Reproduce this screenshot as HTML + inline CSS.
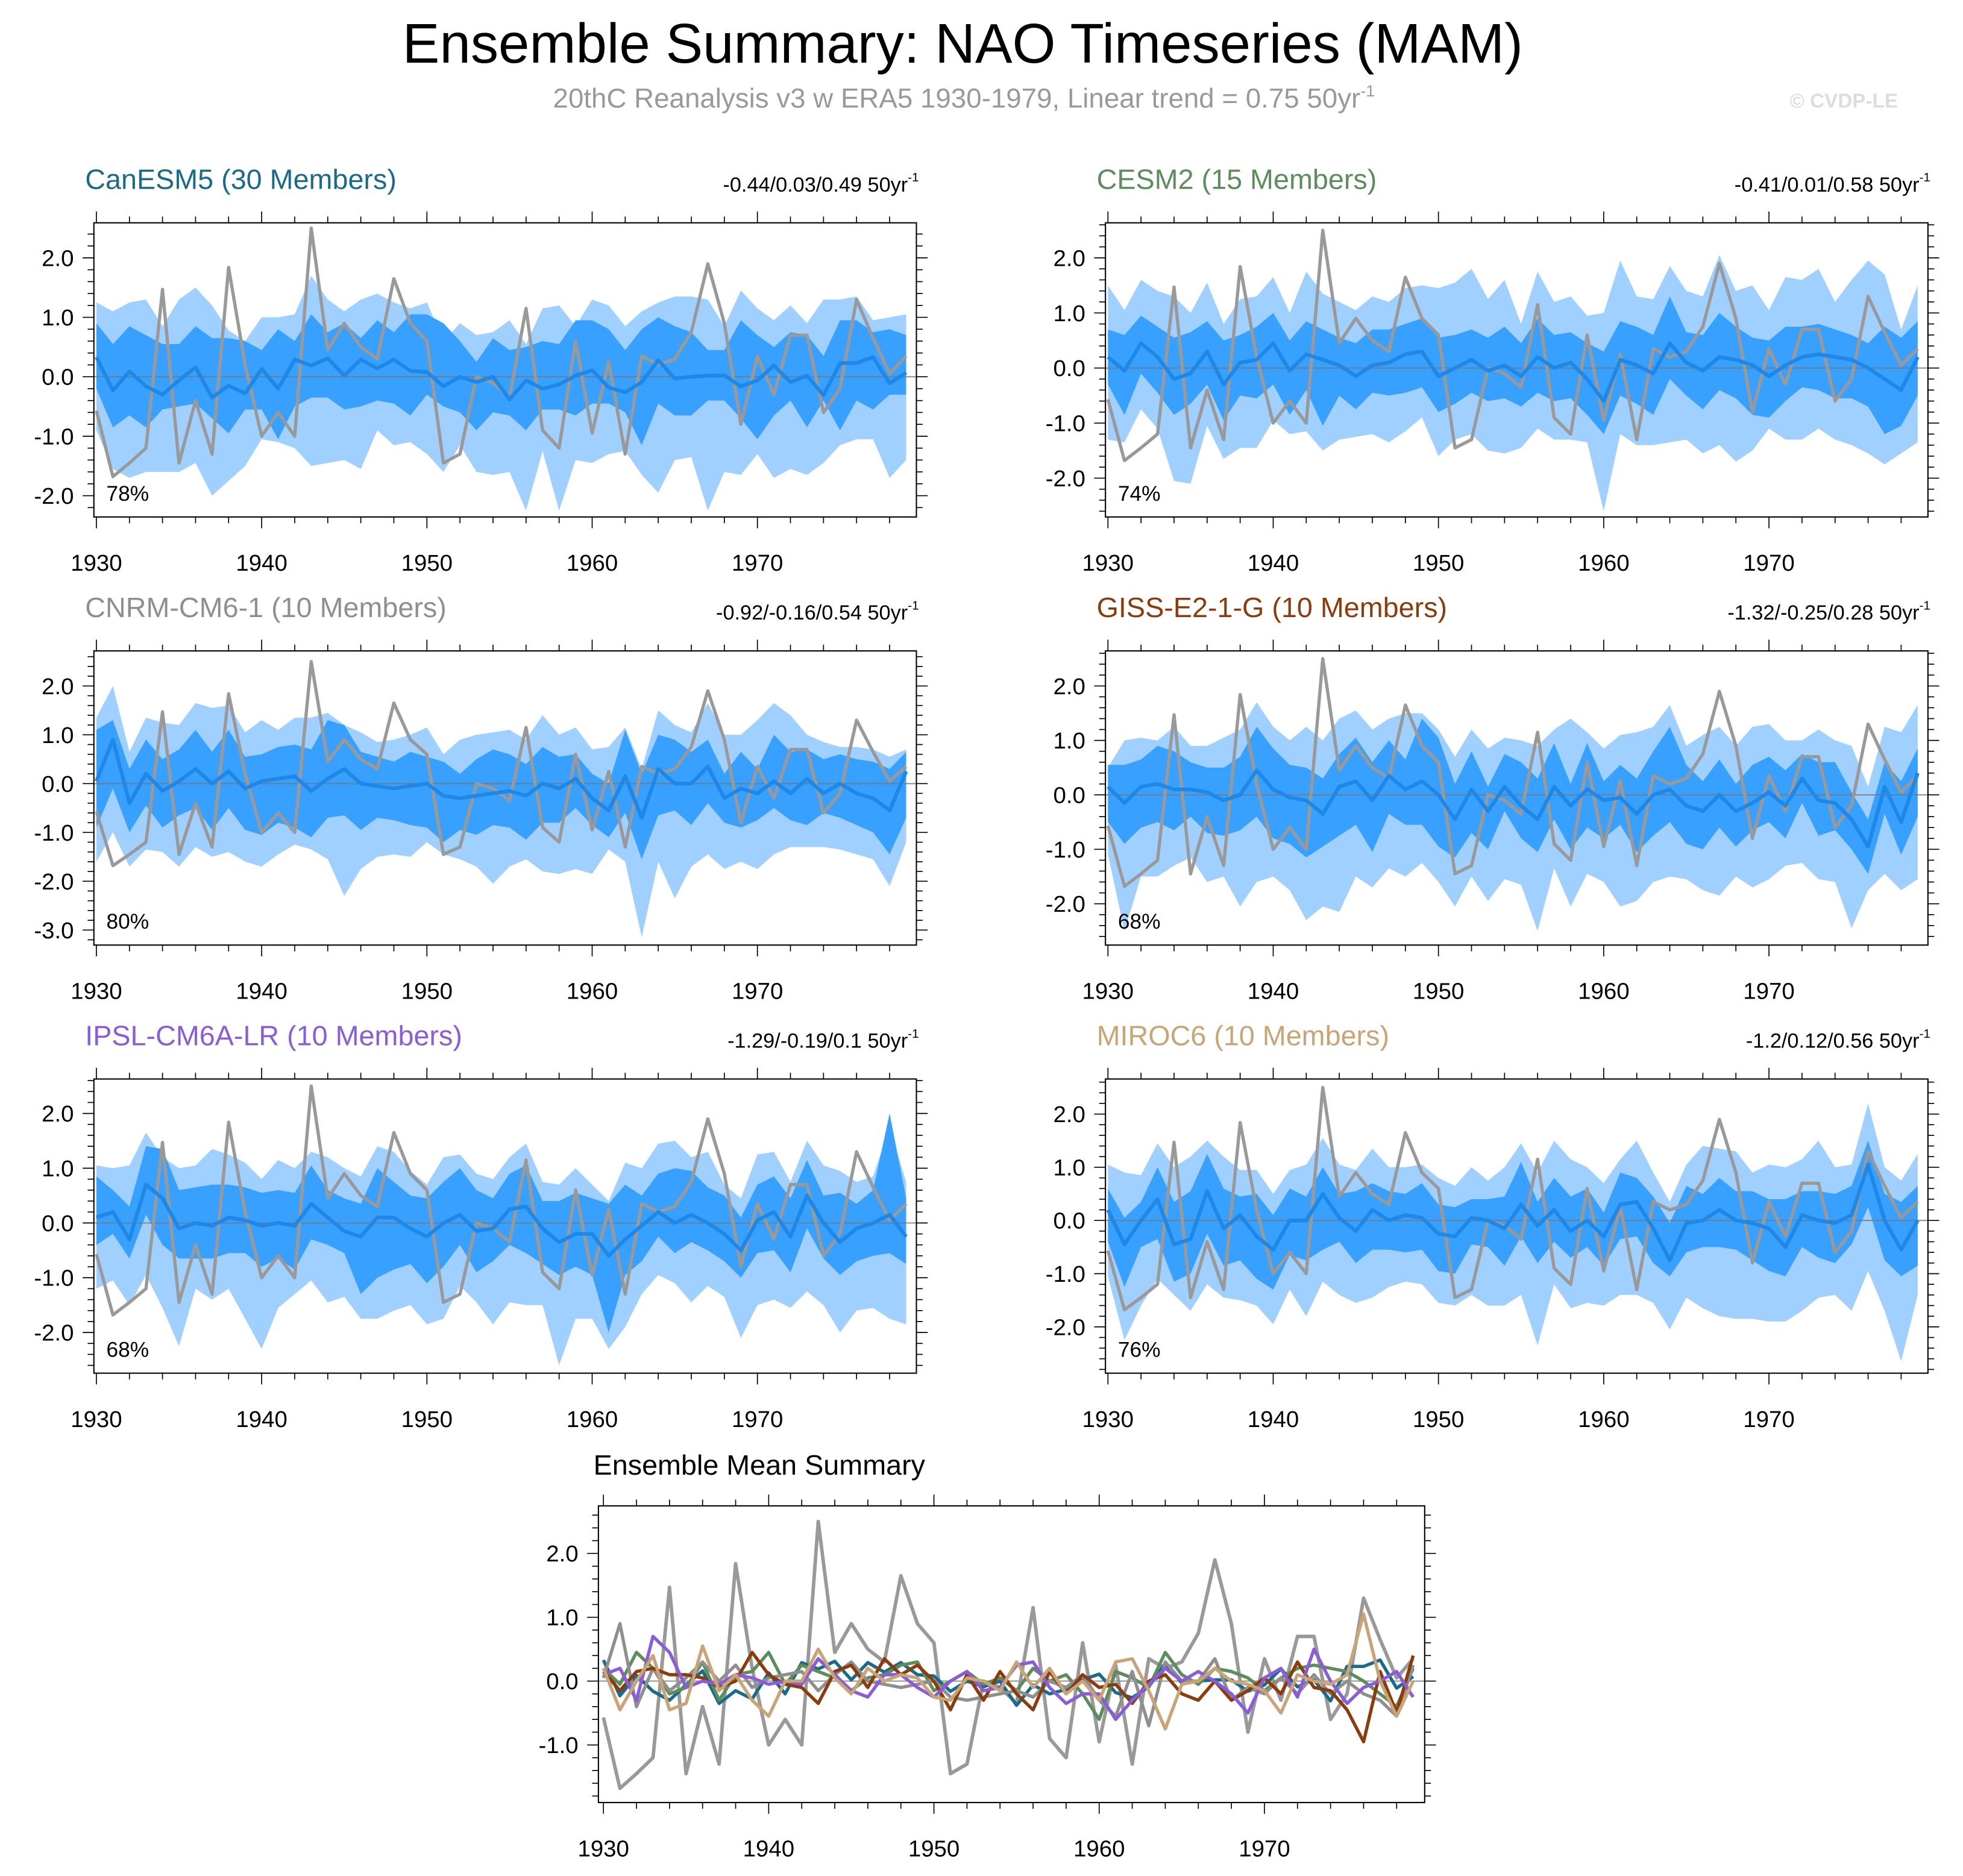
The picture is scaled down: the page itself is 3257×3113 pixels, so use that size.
<!DOCTYPE html>
<html><head><meta charset="utf-8"><style>
html,body{margin:0;padding:0;background:#fff}
svg{display:block;font-family:"Liberation Sans",sans-serif}
</style></head><body>
<svg id="chart" width="3257" height="3113" viewBox="0 0 1568 1498.7" preserveAspectRatio="none" xmlns="http://www.w3.org/2000/svg">
<rect width="1568" height="1498.7" fill="#fff"/>
<text x="769" y="50" font-size="44.5" text-anchor="middle" fill="#000">Ensemble Summary: NAO Timeseries (MAM)</text>
<text x="770" y="86" font-size="22" text-anchor="middle" fill="#999">20thC Reanalysis v3 w ERA5 1930-1979, Linear trend = 0.75 50yr<tspan dy="-9" font-size="13">-1</tspan></text>
<text x="1516" y="86" font-size="16" font-weight="bold" text-anchor="end" fill="#ddd">© CVDP-LE</text>
<g id="plots"></g>
</svg>
<script>
const years = [];
for (let y = 1930; y <= 1979; y++) years.push(y);
const xTickLabels = [1930,1940,1950,1960,1970];
const obs = [-0.57,-1.68,-1.45,-1.2,1.47,-1.45,-0.4,-1.3,1.84,0.2,-1.0,-0.6,-1.0,2.5,0.45,0.9,0.5,0.3,1.65,0.9,0.6,-1.45,-1.3,0.0,-0.1,-0.35,1.15,-0.9,-1.2,0.6,-0.95,0.25,-1.3,0.35,0.2,0.3,0.75,1.9,0.9,-0.8,0.35,-0.3,0.7,0.7,-0.6,-0.2,1.3,0.65,0.05,0.35];

const canMean=[0.33,-0.23,0.09,-0.16,-0.30,-0.06,0.16,-0.35,-0.15,-0.28,0.13,-0.2,0.29,0.19,0.31,0.02,0.29,0.14,0.29,0.1,0.08,-0.16,0.0,-0.09,0,-0.38,-0.06,-0.2,-0.13,0.02,0.11,-0.18,-0.26,-0.09,0.28,-0.03,0,0.02,0.02,-0.16,-0.06,0.19,-0.09,0.02,-0.31,0.23,0.23,0.33,-0.11,0.07];
const canDHi=[0.9,0.55,0.85,0.7,0.55,0.55,0.85,0.65,0.65,0.6,0.45,0.8,0.6,1.05,0.75,0.9,0.65,0.95,0.75,1.05,1.05,0.9,0.6,0.25,0.65,0.45,0.5,0.6,0.55,0.95,0.95,0.8,0.45,0.8,1.0,0.85,0.75,0.45,0.45,0.95,0.7,0.5,0.75,0.7,0.35,0.95,0.95,0.75,0.8,0.7];
const canDLo=[-0.2,-0.85,-0.65,-0.85,-0.55,-0.5,-0.45,-0.7,-0.95,-0.55,-0.55,-1.05,-0.5,-0.35,-0.35,-0.55,-0.5,-0.4,-0.45,-0.65,-0.3,-0.5,-0.6,-0.9,-0.6,-0.65,-0.9,-0.55,-0.55,-0.65,-0.45,-0.45,-0.6,-1.15,-0.45,-0.65,-0.65,-0.4,-0.4,-0.7,-1.05,-0.65,-0.4,-0.85,-0.4,-0.9,-0.4,-0.55,-0.3,-0.3];
const canLHi=[1.25,1.1,1.25,1.3,0.85,1.3,1.5,1.2,0.78,0.6,1.0,1.0,1.05,1.7,1.3,1.1,1.3,1.4,1.25,1.15,1.25,0.6,0.9,0.7,0.75,0.95,0.55,1.15,1.2,0.85,1.3,1.2,0.85,1.1,1.25,1.35,1.35,1.3,0.85,1.45,1.15,0.95,1.2,0.9,1.3,1.3,1.35,0.95,1.0,1.05];
const canLLo=[-0.9,-1.55,-1.7,-1.6,-1.6,-1.6,-1.45,-2.0,-1.75,-1.5,-1.05,-1.1,-1.2,-1.5,-1.45,-1.4,-1.55,-0.9,-1.15,-1.1,-1.3,-1.6,-1.15,-1.6,-1.65,-1.6,-2.25,-1.25,-2.25,-1.4,-1.45,-1.3,-1.25,-1.65,-1.95,-1.4,-1.35,-2.25,-1.6,-1.65,-1.3,-1.7,-1.55,-1.65,-1.45,-1.15,-1.05,-1.05,-1.7,-1.4];

const cesMean=[0.2,-0.05,0.45,0.2,-0.2,-0.1,0.3,-0.3,0.1,0.15,0.45,-0.05,0.25,0.15,0.05,-0.15,0.05,0.1,0.25,0.3,-0.15,0.0,0.15,-0.05,0.05,-0.15,0.2,0.0,0.1,-0.2,-0.6,0.15,0.05,-0.1,0.45,0.1,-0.05,0.2,0.15,0.05,-0.15,0.05,0.2,0.25,0.2,0.15,0.0,-0.2,-0.4,0.2];
const cesDHi=[0.7,0.6,0.95,0.75,0.55,0.65,0.85,0.5,0.6,0.75,1.0,0.5,0.85,0.7,0.55,0.45,0.7,0.7,0.8,0.9,0.55,0.6,0.7,0.55,0.75,0.45,0.9,0.6,0.65,0.45,0.3,0.85,0.75,0.6,1.3,0.65,0.6,1.0,0.75,0.55,0.5,0.75,0.75,0.8,0.7,0.6,0.45,0.75,0.55,0.85];
const cesDLo=[-0.3,-0.85,-0.1,-0.45,-0.85,-0.65,-0.3,-0.95,-0.5,-0.55,-0.3,-0.85,-0.4,-1.05,-0.5,-0.75,-0.45,-0.5,-0.45,-0.35,-0.8,-0.65,-0.45,-0.6,-0.55,-0.7,-0.45,-0.6,-0.55,-0.85,-1.2,-0.5,-0.65,-0.85,-0.2,-0.5,-0.75,-0.4,-0.55,-0.85,-0.9,-0.6,-0.35,-0.4,-0.55,-0.55,-0.7,-1.2,-1.05,-0.5];
const cesLHi=[1.5,1.05,1.6,1.4,1.3,1.0,1.55,0.8,1.25,1.3,1.65,1.0,1.75,1.35,1.2,1.05,1.3,1.2,1.45,1.5,1.45,1.55,1.8,1.25,1.6,0.8,1.75,1.2,1.3,0.95,1.0,1.95,1.3,1.25,1.85,1.4,1.3,2.05,1.4,1.5,1.05,1.65,1.6,1.8,1.2,1.6,1.95,1.7,0.7,1.5];
const cesLLo=[-1.3,-1.35,-0.75,-1.1,-2.05,-2.1,-1.05,-1.65,-1.45,-1.45,-0.95,-1.2,-1.15,-1.5,-1.3,-1.25,-1.2,-1.35,-1.15,-0.9,-1.6,-1.3,-1.2,-1.5,-1.55,-1.45,-1.1,-1.3,-1.3,-1.35,-2.6,-1.2,-1.4,-1.4,-1.35,-1.3,-1.55,-1.4,-1.7,-1.5,-1.1,-1.3,-1.3,-1.1,-1.3,-1.4,-1.55,-1.75,-1.55,-1.35];

const cnrMean=[0.05,0.9,-0.4,0.2,-0.15,0.05,0.3,0.0,0.25,-0.1,0.05,0.1,0.15,-0.15,0.1,0.3,0.0,-0.05,-0.1,-0.05,0.0,-0.25,-0.3,-0.25,-0.2,-0.15,-0.25,0.0,-0.1,0.1,-0.3,-0.55,0.15,-0.7,0.3,0.0,0.0,0.35,-0.3,-0.1,-0.2,0.05,-0.2,0.1,-0.2,0.0,-0.2,-0.3,-0.55,0.25];
const cnrDHi=[1.1,1.3,0.3,0.9,0.5,0.7,1.1,0.65,1.1,0.55,0.6,0.75,0.8,0.7,1.3,1.2,0.65,0.55,0.45,0.65,0.55,0.45,0.2,0.5,0.7,0.6,0.4,0.75,0.55,0.6,0.2,0.0,1.1,0.2,1.0,0.9,0.65,0.9,0.2,0.65,0.3,1.0,0.65,0.7,0.5,0.6,0.5,0.45,0.3,0.65];
const cnrDLo=[-0.9,-0.1,-1.0,-0.45,-0.9,-0.65,-0.5,-0.95,-0.5,-0.95,-1.05,-0.8,-0.9,-1.1,-0.7,-0.65,-0.95,-0.7,-0.75,-0.85,-0.9,-1.2,-0.95,-1.05,-0.85,-0.9,-1.15,-0.8,-0.8,-0.5,-0.85,-1.1,-0.6,-1.55,-0.65,-0.55,-0.85,-0.4,-0.8,-0.9,-0.75,-0.5,-0.75,-0.85,-0.6,-0.7,-0.85,-1.0,-1.45,-0.7];
const cnrLHi=[1.35,2.0,0.65,1.35,1.25,1.2,1.65,1.55,1.6,1.05,1.3,1.1,1.35,1.35,1.45,1.2,1.05,0.85,0.9,1.0,1.15,0.6,0.9,1.0,1.05,1.1,0.9,1.4,1.0,1.15,0.7,0.75,1.15,0.3,1.5,1.2,1.05,1.65,1.0,1.0,1.3,1.65,1.4,1.0,0.85,0.75,0.75,0.7,0.55,0.7];
const cnrLLo=[-1.6,-1.0,-1.7,-1.35,-1.4,-1.7,-1.3,-1.5,-1.4,-1.6,-1.7,-1.45,-1.25,-1.35,-1.55,-2.3,-1.75,-1.5,-1.45,-1.5,-1.2,-1.45,-1.55,-1.7,-2.05,-1.7,-1.55,-1.8,-1.85,-1.75,-1.85,-1.35,-1.6,-3.15,-1.6,-2.35,-1.7,-1.45,-1.75,-1.6,-1.75,-1.45,-1.3,-1.3,-1.3,-1.35,-1.45,-1.55,-2.1,-1.2];

const gisMean=[0.15,-0.15,0.15,0.2,0.1,0.1,0.05,-0.1,0.0,0.45,0.1,-0.05,-0.1,-0.35,0.15,0.25,-0.1,0.35,0.1,0.25,0.0,-0.45,0.1,-0.3,0.15,-0.2,-0.45,0.15,-0.2,0.1,-0.1,-0.05,-0.35,0.0,0.1,-0.2,-0.3,0.0,-0.3,-0.15,0.05,-0.2,0.3,-0.1,-0.15,-0.45,-0.95,0.15,-0.5,0.4];
const gisDHi=[0.55,0.55,0.65,0.9,0.8,0.6,0.5,0.5,0.7,1.25,0.85,0.55,0.5,0.3,0.75,1.05,0.6,1.0,0.65,1.4,1.05,0.2,0.8,0.15,0.75,0.6,0.3,0.95,0.2,0.95,0.25,0.55,0.3,0.8,1.25,0.55,0.25,0.65,0.2,0.55,0.7,0.45,0.75,0.6,0.6,0.05,-0.45,0.6,0.25,0.85];
const gisDLo=[-0.5,-0.9,-0.6,-0.5,-0.65,-0.4,-0.7,-0.75,-0.65,-0.4,-0.8,-0.9,-1.15,-0.95,-0.75,-0.55,-1.05,-0.35,-0.55,-0.55,-0.95,-1.15,-0.7,-1.0,-0.3,-0.8,-1.05,-0.45,-1.0,-0.6,-0.8,-0.55,-1.05,-0.75,-0.5,-0.9,-1.0,-0.6,-0.95,-0.65,-0.5,-0.8,-0.15,-0.75,-0.65,-1.0,-1.45,-0.35,-1.1,-0.4];
const gisLHi=[0.5,1.0,1.05,1.0,1.25,0.9,0.9,1.05,1.2,1.7,1.25,1.0,1.25,1.0,1.4,1.55,1.2,1.4,1.5,1.5,1.2,0.7,1.2,0.85,1.05,1.0,0.9,1.2,1.4,1.15,0.85,1.1,1.15,1.25,1.65,0.9,1.1,1.25,0.9,1.25,1.3,1.0,1.0,1.2,1.0,0.9,0.15,1.25,1.15,1.65];
const gisLLo=[-1.1,-2.5,-1.5,-1.5,-1.3,-1.15,-1.6,-1.5,-2.05,-1.6,-1.5,-1.75,-2.3,-2.05,-2.15,-1.5,-1.7,-1.35,-1.5,-1.25,-1.6,-2.05,-1.5,-1.95,-1.55,-1.65,-2.5,-1.35,-2.05,-1.45,-1.6,-2.05,-1.95,-1.6,-1.5,-1.55,-1.75,-1.85,-1.5,-1.7,-1.55,-1.3,-1.25,-1.55,-1.6,-2.45,-1.75,-1.45,-1.75,-1.55];

const ipsMean=[0.1,0.2,-0.3,0.7,0.45,-0.1,0.0,-0.05,0.1,0.05,-0.05,0.0,-0.05,0.35,0.1,-0.15,-0.25,0.1,0.1,-0.1,-0.25,0.0,0.15,-0.15,-0.1,0.25,0.3,-0.1,-0.35,-0.2,-0.2,-0.6,-0.3,-0.05,0.2,0.0,0.15,0.0,-0.2,-0.5,0.05,0.2,-0.25,0.5,0.0,-0.35,-0.1,0.0,0.15,-0.25];
const ipsDHi=[0.85,0.6,0.3,1.4,1.35,0.6,0.65,0.7,0.7,0.65,0.55,0.6,0.55,1.05,0.6,0.45,0.35,1.0,0.75,0.5,0.45,0.75,1.0,0.6,0.45,0.9,1.05,0.4,0.4,0.55,0.45,0.35,0.7,0.5,0.9,1.0,0.95,0.65,0.5,0.1,0.7,0.85,0.45,1.15,0.5,0.55,0.35,0.6,2.0,0.45];
const ipsDLo=[-0.4,-0.2,-0.65,0.15,-0.4,-0.65,-0.65,-0.65,-0.55,-0.55,-0.8,-0.65,-0.85,-0.3,-0.4,-0.55,-1.3,-1.0,-0.85,-0.75,-1.1,-0.8,-0.4,-0.9,-0.7,-0.4,-0.55,-0.75,-0.95,-0.8,-0.95,-2.0,-0.95,-0.7,-0.25,-0.55,-0.35,-0.5,-0.7,-1.0,-0.55,-0.5,-0.9,-0.1,-0.65,-0.95,-0.7,-0.6,-0.55,-0.75];
const ipsLHi=[1.05,1.0,1.05,1.65,1.2,1.0,1.05,1.35,1.25,1.1,0.8,1.15,1.0,1.3,1.2,1.0,0.85,1.4,1.3,0.95,0.7,1.2,1.25,0.9,0.8,1.2,1.45,0.75,0.7,1.0,0.7,0.4,1.1,1.0,1.45,1.5,1.2,1.3,0.7,0.45,1.25,1.3,0.75,1.5,1.05,0.95,0.75,0.85,1.75,0.75];
const ipsLLo=[-1.2,-1.05,-1.5,-0.95,-1.55,-2.25,-1.2,-1.4,-1.2,-1.75,-2.3,-1.55,-1.3,-1.05,-1.45,-1.35,-1.75,-1.75,-1.6,-1.5,-1.85,-1.75,-1.15,-1.45,-1.85,-1.45,-1.5,-1.5,-2.6,-1.75,-1.75,-2.3,-1.9,-1.3,-0.95,-1.1,-1.45,-1.15,-1.35,-2.1,-1.5,-1.4,-1.55,-1.25,-1.5,-2.0,-1.6,-1.55,-1.75,-1.85];

const mirMean=[0.2,-0.45,0.0,0.4,-0.45,-0.35,0.55,-0.15,0.1,-0.3,-0.55,0.0,0.0,0.5,0.05,-0.2,0.2,0.0,0.1,0.05,-0.25,-0.3,0.05,0.0,-0.15,0.3,-0.1,0.2,-0.2,0.0,-0.3,0.3,0.35,-0.15,-0.75,-0.05,0.0,0.2,0.0,-0.05,-0.15,-0.5,0.1,0.0,-0.05,0.1,1.05,0.0,-0.55,0.0];
const mirDHi=[0.6,0.05,0.35,1.0,0.35,0.55,1.25,0.6,0.45,0.5,0.1,0.6,0.45,1.0,0.5,0.55,0.7,0.55,0.5,0.7,0.3,0.25,0.4,0.4,0.45,1.1,0.35,0.8,0.45,0.6,0.15,0.9,0.8,0.45,-0.05,0.65,0.5,0.8,0.55,0.55,0.4,0.4,0.55,0.55,0.5,0.65,1.5,0.5,0.35,0.65];
const mirDLo=[-0.4,-1.25,-0.5,-0.35,-1.15,-1.0,-0.25,-0.85,-0.75,-1.1,-1.3,-0.65,-0.75,-0.55,-0.4,-0.8,-0.55,-0.55,-0.6,-0.55,-0.95,-1.0,-0.45,-0.5,-0.85,-0.3,-0.8,-0.4,-0.7,-0.5,-0.85,-0.35,-0.3,-0.8,-1.05,-0.6,-0.5,-0.5,-0.55,-0.75,-0.95,-1.05,-0.5,-0.7,-0.8,-0.45,0.25,-0.75,-1.05,-0.85];
const mirLHi=[1.05,0.9,0.85,1.45,1.0,1.2,1.5,1.2,0.95,0.95,0.5,0.95,1.05,1.55,1.05,0.95,1.35,1.0,1.0,1.05,0.8,0.65,1.0,0.75,1.0,1.45,0.9,1.5,1.15,1.0,0.7,1.15,1.5,0.9,0.35,1.05,1.4,1.35,1.3,0.9,1.05,1.0,1.15,1.5,1.0,1.05,2.2,1.0,0.75,1.25];
const mirLLo=[-1.05,-2.25,-1.6,-1.1,-1.4,-1.7,-1.2,-1.45,-1.5,-1.6,-1.95,-1.3,-1.8,-1.15,-1.4,-1.55,-1.45,-1.25,-1.15,-1.2,-1.55,-1.6,-1.4,-1.6,-1.6,-1.4,-2.35,-1.2,-1.65,-1.55,-1.6,-1.4,-1.4,-1.55,-2.05,-1.45,-1.65,-1.8,-1.85,-1.85,-1.9,-1.9,-1.7,-1.45,-1.4,-1.7,-0.95,-1.7,-2.65,-1.4];

const modelNames=["CanESM5 (30 Members)","CESM2 (15 Members)","CNRM-CM6-1 (10 Members)","GISS-E2-1-G (10 Members)","IPSL-CM6A-LR (10 Members)","MIROC6 (10 Members)"];
const trendTexts=["-0.44/0.03/0.49 50yr","-0.41/0.01/0.58 50yr","-0.92/-0.16/0.54 50yr","-1.32/-0.25/0.28 50yr","-1.29/-0.19/0.1 50yr","-1.2/0.12/0.56 50yr"];
const pctTexts=["78%","74%","80%","68%","68%","76%"];
const modelColors=["#1a6b8a","#5d8c5d","#8f8f8f","#8c3c0c","#8a5cd8","#c9a476"];
const means=[canMean,cesMean,cnrMean,gisMean,ipsMean,mirMean];
const dHis=[canDHi,cesDHi,cnrDHi,gisDHi,ipsDHi,mirDHi];
const dLos=[canDLo,cesDLo,cnrDLo,gisDLo,ipsDLo,mirDLo];
const lHis=[canLHi,cesLHi,cnrLHi,gisLHi,ipsLHi,mirLHi];
const lLos=[canLLo,cesLLo,cnrLLo,gisLLo,ipsLLo,mirLLo];

const NS="http://www.w3.org/2000/svg";
const root=document.getElementById('plots');
function mk(tag,attrs,parent){const e=document.createElementNS(NS,tag);for(const k in attrs)e.setAttribute(k,attrs[k]);(parent||root).appendChild(e);return e;}

const layouts=[
 {x:75,y:178,w:657,h:235,zero:301,per:47.5,yt:[-2,-1,0,1,2]},
 {x:883,y:178,w:657,h:235,zero:294,per:44,yt:[-2,-1,0,1,2]},
 {x:75,y:520,w:657,h:235,zero:626,per:39,yt:[-3,-2,-1,0,1,2]},
 {x:883,y:520,w:657,h:235,zero:635,per:43.5,yt:[-2,-1,0,1,2]},
 {x:75,y:862,w:657,h:235,zero:977,per:43.75,yt:[-2,-1,0,1,2]},
 {x:883,y:862,w:657,h:235,zero:975,per:42.5,yt:[-2,-1,0,1,2]}
];
const PX_YR=13.2;

function drawFrame(L,g,xS,yS){
  const top=L.y,bot=L.y+L.h,left=L.x,right=L.x+L.w;
  const vTop=(L.zero-top)/L.per, vBot=(L.zero-bot)/L.per;
  for(let v=Math.ceil(vBot*5)/5; v<=vTop+1e-6; v+=0.2){
    const y=yS(v);const major=Math.abs(v-Math.round(v))<1e-6;
    const len=major?9:5;
    const t1=mk('line',{x1:left,x2:left-len,y1:y,y2:y,stroke:'#000','stroke-width':0.8},g);
    
    
    mk('line',{x1:right,x2:right+len,y1:y,y2:y,stroke:'#000','stroke-width':0.8},g);
  }
  for(let yr=1930; yr<=1980; yr+=2){
    const x=xS(yr); if(x>right) break;
    const major=(yr%10===0);const len=major?9:5;
    const t=mk('line',{x1:x,x2:x,y1:bot,y2:bot+len,stroke:'#000','stroke-width':0.8},g);
    
    
    mk('line',{x1:x,x2:x,y1:top,y2:top-len,stroke:'#000','stroke-width':0.8},g);
  }
  L.yt.forEach(v=>{
    const t=mk('text',{x:left-16,y:yS(v)+6.5,'font-size':18.5,'text-anchor':'end',fill:'#000'},g);
    
    
    t.textContent=v.toFixed(1);
  });
  xTickLabels.forEach(yr=>{
    const t=mk('text',{x:xS(yr),y:bot+43,'font-size':18.5,'text-anchor':'middle',fill:'#000'},g);
    
    
    t.textContent=yr;
  });
  const r=mk('rect',{x:left,y:top,width:L.w,height:L.h,fill:'none',stroke:'#000','stroke-width':1},g);
  
  
}
function lineD(arr,xS,yS){return arr.map((v,i)=>(i?'L':'M')+xS(years[i]).toFixed(2)+','+yS(v).toFixed(2)).join('');}
function bandD(hi,lo,xS,yS){
  let d=hi.map((v,i)=>(i?'L':'M')+xS(years[i]).toFixed(2)+','+yS(v).toFixed(2)).join('');
  for(let i=lo.length-1;i>=0;i--) d+='L'+xS(years[i]).toFixed(2)+','+yS(lo[i]).toFixed(2);
  return d+'Z';
}

layouts.forEach((L,p)=>{
  const g=mk('g',{});
  
  
  const xS=yr=>L.x+2+(yr-1930)*PX_YR;
  const yS=v=>L.zero-v*L.per;
  const cp=mk('clipPath',{id:'cp'+p},g);
  mk('rect',{x:L.x,y:L.y,width:L.w,height:L.h},cp);
  const pg=mk('g',{'clip-path':'url(#cp'+p+')'},g);
  const lb=mk('path',{d:bandD(lHis[p],lLos[p],xS,yS),fill:'#a0d0ff'},pg);
  
  
  const db=mk('path',{d:bandD(dHis[p],dLos[p],xS,yS),fill:'#38a0ff'},pg);
  
  
  const zl=mk('line',{x1:L.x,x2:L.x+L.w,y1:yS(0),y2:yS(0),stroke:'#777','stroke-width':1,opacity:0.8},pg);
  
  
  const ol=mk('path',{d:lineD(obs,xS,yS),fill:'none',stroke:'#999','stroke-width':2.6,'stroke-linejoin':'round'},pg);
  
  
  const ml=mk('path',{d:lineD(means[p],xS,yS),fill:'none',stroke:'#1e88e8','stroke-width':3,'stroke-linejoin':'round'},pg);
  
  
  drawFrame(L,g,xS,yS);
  const t=mk('text',{x:L.x-7,y:L.y-27,'font-size':22.5,fill:modelColors[p]},g);
  
  
  t.textContent=modelNames[p];
  const tr=mk('text',{x:L.x+L.w+2,y:L.y-25,'font-size':16.5,'text-anchor':'end',fill:'#000'},g);
  
  
  tr.textContent=trendTexts[p];
  const sup=mk('tspan',{dy:-8,'font-size':10},tr);sup.textContent='-1';
  const pc=mk('text',{x:L.x+10,y:L.y+L.h-13,'font-size':17,fill:'#000'},g);
  
  
  pc.textContent=pctTexts[p];
});

(function(){
  const L={x:478,y:1203,w:660,h:237,zero:1343,per:51,yt:[-1,0,1,2]};
  const g=mk('g',{});
  
  
  const xS=yr=>L.x+4+(yr-1930)*PX_YR;
  const yS=v=>L.zero-v*L.per;
  const cp=mk('clipPath',{id:'cpS'},g);
  mk('rect',{x:L.x,y:L.y,width:L.w,height:L.h},cp);
  const pg=mk('g',{'clip-path':'url(#cpS)'},g);
  const zl=mk('line',{x1:L.x,x2:L.x+L.w,y1:yS(0),y2:yS(0),stroke:'#999','stroke-width':1},pg);
  
  
  const ol=mk('path',{d:lineD(obs,xS,yS),fill:'none',stroke:'#999','stroke-width':2.8,'stroke-linejoin':'round'},pg);
  
  
  means.forEach((m,p)=>{
    const l=mk('path',{d:lineD(m,xS,yS),fill:'none',stroke:modelColors[p],'stroke-width':2.6,'stroke-linejoin':'round'},pg);
    
    
  });
  drawFrame(L,g,xS,yS);
  const t=mk('text',{x:474,y:1178,'font-size':22.5,fill:'#000'},g);
  
  
  t.textContent='Ensemble Mean Summary';
})();
</script>
</body></html>
